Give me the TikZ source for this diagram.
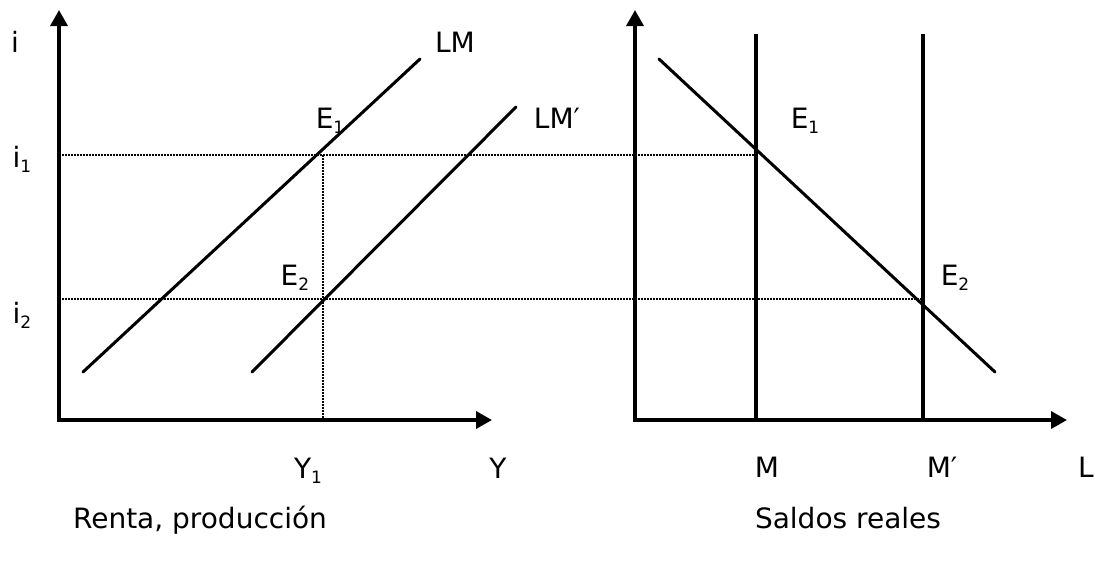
\documentclass[tikz,border=0pt]{standalone}
\usepackage{fontspec}
\setmainfont{DejaVu Sans}
\usetikzlibrary{arrows.meta, positioning}

\newcommand{\lowidx}[1]{\raisebox{-5pt}{\fontsize{17}{17}\selectfont #1}}

\begin{document}
\begin{tikzpicture}[x=1pt, y=-1pt,
      axis/.style={{Triangle[length=16pt, width=17pt]}-{Triangle[length=16pt, width=17pt]}, line width=3.5pt},
      curve/.style={line width=3pt, line cap=round},
      guide/.style={line width=2.4pt, dash pattern=on 1.8pt off 1.2pt},
      lbl/.style={font=\fontsize{28}{30}\selectfont, inner sep=0pt, anchor=base}]

      \useasboundingbox (0,0) rectangle (1095,563);

      % Draw the axes
      \coordinate (itop) at (59,10);
      \coordinate (O1) at (59,420);
      \coordinate (Yend) at (492,420);
      \coordinate (Ltop) at (635,10);
      \coordinate (O2) at (635,420);
      \coordinate (Lend) at (1067,420);
      \draw[axis] (itop) -- (O1) -- (Yend);
      \draw[axis] (Ltop) -- (O2) -- (Lend);

      % LM curves
      \coordinate (LMa) at (83,372);
      \coordinate (LMb) at (420,59);
      \coordinate (LMpa) at (252,372);
      \coordinate (LMpb) at (516,107);
      \draw[curve] (LMa) -- (LMb);
      \draw[curve] (LMpa) -- (LMpb);

      % Money demand and supply
      \coordinate (Da) at (659,59);
      \coordinate (Db) at (995,372);
      \coordinate (Mtop) at (756,34);
      \coordinate (Mbot) at (756,420);
      \coordinate (Mptop) at (923,34);
      \coordinate (Mpbot) at (923,420);
      \draw[curve] (Da) -- (Db);
      \draw[line width=3.5pt] (Mtop) -- (Mbot);
      \draw[line width=3.5pt] (Mptop) -- (Mpbot);

      % Dotted guides
      \coordinate (i1a) at (59,155);
      \coordinate (i1b) at (756,155);
      \coordinate (i2a) at (59,299);
      \coordinate (i2b) at (923,299);
      \coordinate (Y1a) at (323,155);
      \coordinate (Y1b) at (323,420);
      \draw[guide] (i1a) -- (i1b);
      \draw[guide] (i2a) -- (i2b);
      \draw[guide] (Y1a) -- (Y1b);

      % Axis labels
      \node[lbl] (li) at (15,52) {i};
      \node[lbl] (li1) at (22,167) {i\lowidx{1}};
      \node[lbl] (li2) at (22,323) {i\lowidx{2}};
      \node[lbl] (lY1) at (308,478) {Y\lowidx{1}};
      \node[lbl] (lY) at (498,478) {Y};
      \node[lbl] (lM) at (767,477) {M};
      \node[lbl] (lMp) at (942,477) {M′};
      \node[lbl] (lL) at (1086,477) {L};

      % Curve labels and equilibria
      \node[lbl] (lLM) at (455,52) {LM};
      \node[lbl] (lLMp) at (557,128) {LM′};
      \node[lbl] (lE1) at (330,128) {E\lowidx{1}};
      \node[lbl] (lE2) at (295,285) {E\lowidx{2}};
      \node[lbl] (rE1) at (805,128) {E\lowidx{1}};
      \node[lbl] (rE2) at (955,285) {E\lowidx{2}};

      % Panel titles
      \node[lbl] (tleft) at (200,528) {Renta, producción};
      \node[lbl] (tright) at (848,528) {Saldos reales};
   \end{tikzpicture}
\end{document}
